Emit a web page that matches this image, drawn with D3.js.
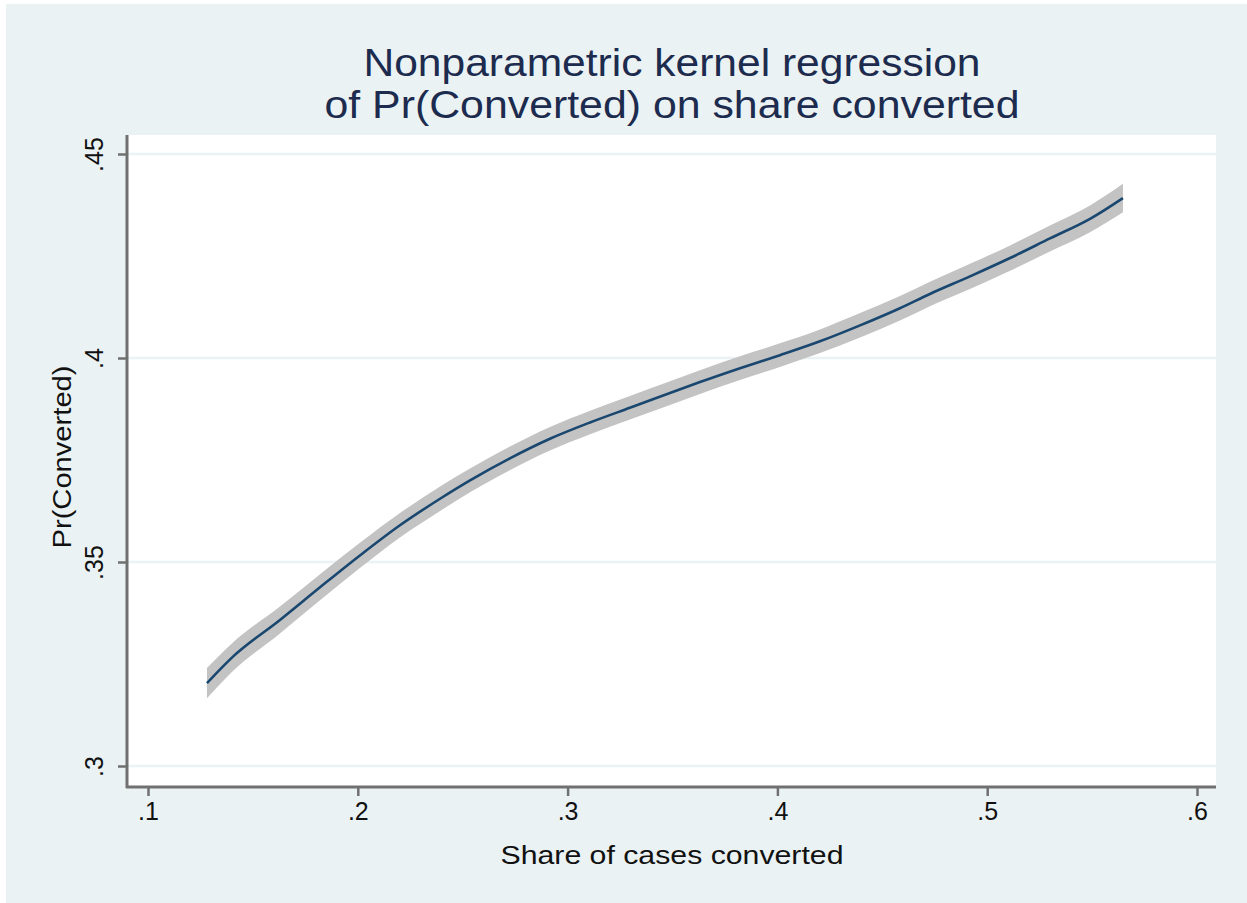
<!DOCTYPE html>
<html>
<head>
<meta charset="utf-8">
<script src="https://cdn.jsdelivr.net/npm/d3@7"></script>
<style>
  html, body { margin: 0; padding: 0; background: #ffffff; }
  svg { display: block; }
  text { font-family: "Liberation Sans", Arial, Helvetica, sans-serif; }
</style>
</head>
<body>
<svg id="chart" width="1247" height="903"></svg>
<script>
// ---- data ----
const shareConverted = [0.1281, 0.1405, 0.1629, 0.1820, 0.2010, 0.2201, 0.2392, 0.2535, 0.2725, 0.2916,
  0.3107, 0.3297, 0.3488, 0.3631, 0.3822, 0.4012, 0.4203, 0.4394, 0.4584, 0.4727,
  0.4918, 0.5109, 0.5299, 0.5490, 0.5647];
const prConverted = [0.3203, 0.3268, 0.3358, 0.3438, 0.3516, 0.3590, 0.3655, 0.3700, 0.3754, 0.3802,
  0.3842, 0.3878, 0.3914, 0.3941, 0.3975, 0.4007, 0.4041, 0.4080, 0.4122, 0.4157,
  0.4200, 0.4245, 0.4293, 0.4341, 0.4392];
const ciHalfWidth = [0.0037, 0.0035, 0.0033, 0.0032, 0.0031, 0.0030, 0.0030, 0.0029, 0.0029, 0.0029,
  0.0029, 0.0029, 0.0029, 0.0029, 0.0029, 0.0029, 0.0029, 0.0030, 0.0030, 0.0030,
  0.0031, 0.0031, 0.0032, 0.0033, 0.0035];
const xTicks = [0.1, 0.2, 0.3, 0.4, 0.5, 0.6];
const xTickLabels = [".1", ".2", ".3", ".4", ".5", ".6"];
const yTicks = [0.3, 0.35, 0.4, 0.45];
const yTickLabels = [".3", ".35", ".4", ".45"];
const titleLines = ["Nonparametric kernel regression", "of Pr(Converted) on share converted"];
const xTitle = "Share of cases converted";
const yTitle = "Pr(Converted)";

// ---- layout ----
const W = 1247, H = 903;
const plot = { left: 127, right: 1216, top: 135, bottom: 787 };

const svg = d3.select("#chart");
svg.append("rect").attr("x", 6).attr("y", 4).attr("width", W - 6).attr("height", H - 4).attr("fill", "#eaf2f3");
svg.append("rect").attr("x", plot.left).attr("y", plot.top)
  .attr("width", plot.right - plot.left).attr("height", plot.bottom - plot.top).attr("fill", "#ffffff");

const x = d3.scaleLinear().domain([0.1, 0.6]).range([148, 1197]);
const y = d3.scaleLinear().domain([0.3, 0.45]).range([766, 154]);

// gridlines
svg.append("g").selectAll("line").data(yTicks).join("line")
  .attr("x1", plot.left).attr("x2", plot.right)
  .attr("y1", d => y(d)).attr("y2", d => y(d))
  .attr("stroke", "#eaf2f3").attr("stroke-width", 2.5);

const data = shareConverted.map((s, i) => ({ x: s, y: prConverted[i], h: ciHalfWidth[i] }));

// CI band
const area = d3.area().x(d => x(d.x)).y0(d => y(d.y - d.h)).y1(d => y(d.y + d.h)).curve(d3.curveMonotoneX);
svg.append("path").datum(data).attr("d", area).attr("fill", "#c3c3c3");

// fitted line
const line = d3.line().x(d => x(d.x)).y(d => y(d.y)).curve(d3.curveMonotoneX);
svg.append("path").datum(data).attr("d", line).attr("fill", "none")
  .attr("stroke", "#1a476f").attr("stroke-width", 2.6);

// axes
const axisColor = "#707070";
const xAxis = d3.axisBottom(x).tickValues(xTicks).tickFormat((d, i) => xTickLabels[i]).tickSize(9).tickPadding(6);
const gx = svg.append("g").attr("transform", `translate(0,${plot.bottom})`).call(xAxis);
gx.select(".domain").remove();
gx.selectAll(".tick line").attr("stroke", axisColor).attr("stroke-width", 2.5);
gx.selectAll(".tick text").attr("fill", "#111").style("font-size", "25px")
  .style("font-family", "'Liberation Sans', Arial, sans-serif");

const yAxis = d3.axisLeft(y).tickValues(yTicks).tickFormat((d, i) => yTickLabels[i]).tickSize(9).tickPadding(0);
const gy = svg.append("g").attr("transform", `translate(${plot.left},0)`).call(yAxis);
gy.select(".domain").remove();
gy.selectAll(".tick line").attr("stroke", axisColor).attr("stroke-width", 2.5);
gy.selectAll(".tick text").attr("fill", "#111").style("font-size", "25px")
  .style("font-family", "'Liberation Sans', Arial, sans-serif")
  .attr("text-anchor", "middle").attr("dy", null)
  .attr("transform", "translate(-24,0) rotate(-90)").attr("x", 0).attr("y", 0);

// axis lines
svg.append("line").attr("x1", plot.left).attr("x2", plot.left).attr("y1", plot.top).attr("y2", plot.bottom + 1)
  .attr("stroke", axisColor).attr("stroke-width", 3);
svg.append("line").attr("x1", plot.left - 1).attr("x2", plot.right).attr("y1", plot.bottom).attr("y2", plot.bottom)
  .attr("stroke", axisColor).attr("stroke-width", 3);

// titles
svg.append("text").attr("x", 672).attr("y", 76).attr("text-anchor", "middle")
  .attr("fill", "#1c2b4e").style("font-size", "38px")
  .attr("textLength", 617).attr("lengthAdjust", "spacingAndGlyphs").text(titleLines[0]);
svg.append("text").attr("x", 672).attr("y", 118).attr("text-anchor", "middle")
  .attr("fill", "#1c2b4e").style("font-size", "38px")
  .attr("textLength", 695).attr("lengthAdjust", "spacingAndGlyphs").text(titleLines[1]);

svg.append("text").attr("x", 672).attr("y", 864).attr("text-anchor", "middle")
  .attr("fill", "#111").style("font-size", "26px")
  .attr("textLength", 343).attr("lengthAdjust", "spacingAndGlyphs").text(xTitle);
svg.append("text").attr("transform", "translate(71,457) rotate(-90)").attr("text-anchor", "middle")
  .attr("fill", "#111").style("font-size", "26px")
  .attr("textLength", 183).attr("lengthAdjust", "spacingAndGlyphs").text(yTitle);
</script>
</body>
</html>
